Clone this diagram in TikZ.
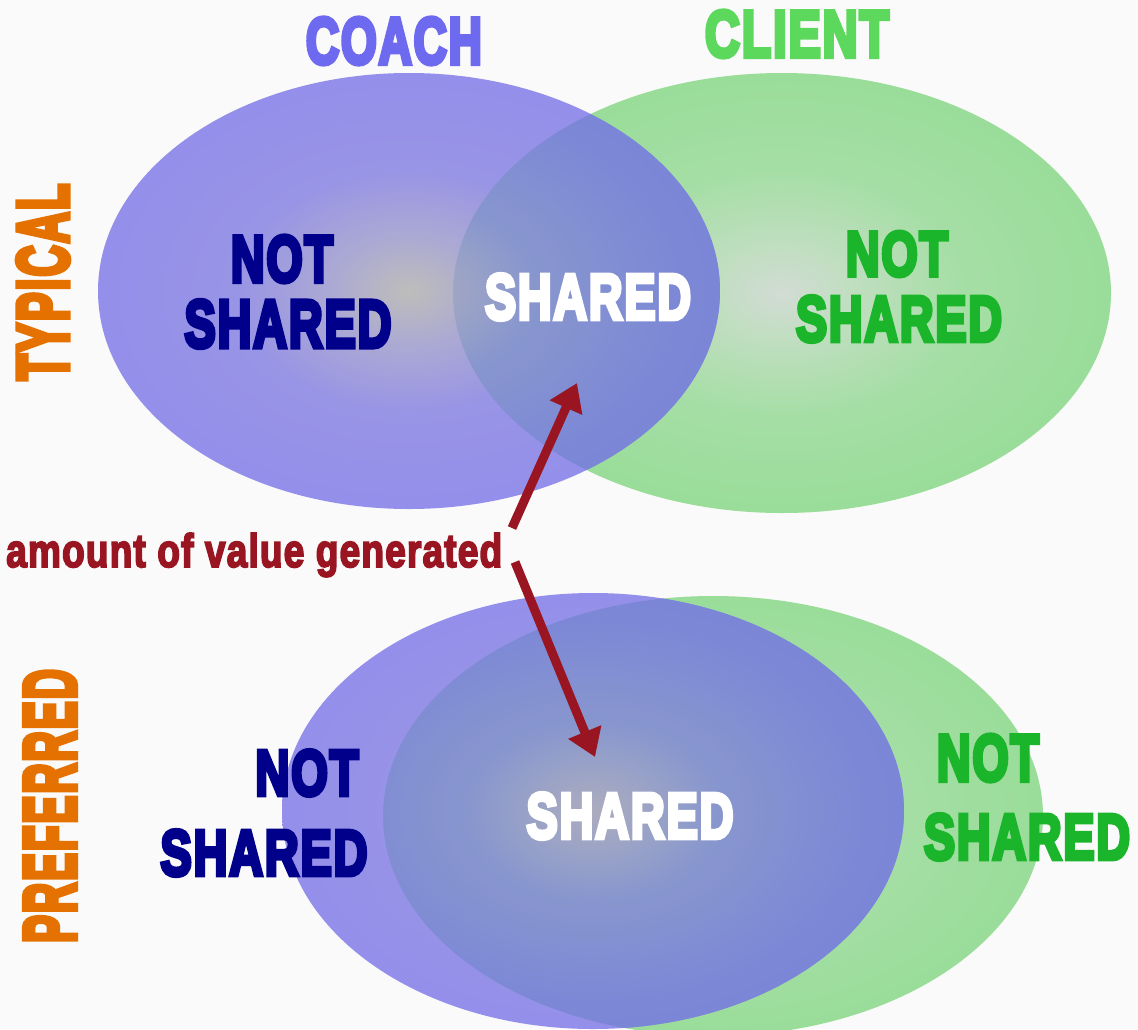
\documentclass[tikz,border=0pt]{standalone}
\usepackage{fontspec}
\usepackage{graphicx}
\usetikzlibrary{arrows.meta}
\newfontfamily\heavy{Liberation Sans}[BoldFeatures={FakeBold=7, LetterSpace=4}]
\newfontfamily\heavyl{Liberation Sans}[BoldFeatures={FakeBold=4, LetterSpace=3}]
\definecolor{bg}{HTML}{FAFAFA}
\definecolor{gc0}{RGB}{210,220,212}
\definecolor{gc1}{RGB}{190,222,190}
\definecolor{gc2}{RGB}{165,222,165}
\definecolor{gc3}{RGB}{148,220,148}
\definecolor{gc4}{RGB}{140,218,140}
\definecolor{bc0}{RGB}{190,189,186}
\definecolor{bc1}{RGB}{172,170,210}
\definecolor{bc2}{RGB}{152,148,230}
\definecolor{bc3}{RGB}{146,141,236}
\definecolor{bc4}{RGB}{140,135,236}
\definecolor{lc0}{RGB}{172,172,190}
\definecolor{lc1}{RGB}{150,160,200}
\definecolor{lc2}{RGB}{136,150,206}
\definecolor{lc3}{RGB}{124,136,214}
\definecolor{lc4}{RGB}{116,124,218}
\definecolor{coachc}{HTML}{6E6AF0}
\definecolor{clientc}{HTML}{5CD85C}
\definecolor{orangec}{HTML}{E57200}
\definecolor{navyc}{HTML}{00008A}
\definecolor{greenc}{HTML}{1BB52B}
\definecolor{redc}{HTML}{981521}
\pgfdeclareradialshading{greenball}{\pgfpoint{0bp}{0bp}}{color(0bp)=(gc0); color(6bp)=(gc1); color(14bp)=(gc2); color(30bp)=(gc3); color(50bp)=(gc4)}
\pgfdeclareradialshading{blueball}{\pgfpoint{0bp}{0bp}}{color(0bp)=(bc0); color(6bp)=(bc1); color(14bp)=(bc2); color(30bp)=(bc3); color(50bp)=(bc4)}
\pgfdeclareradialshading{lensball}{\pgfpoint{0bp}{0bp}}{color(0bp)=(lc0); color(6bp)=(lc1); color(10bp)=(lc2); color(22bp)=(lc3); color(50bp)=(lc4)}
\newcommand\fitt[3]{\resizebox{#1pt}{#2pt}{\heavy\bfseries #3}}
\newcommand\fitl[3]{\resizebox{#1pt}{#2pt}{\heavyl\bfseries #3}}
\tikzset{
  txt/.style={inner sep=0pt, outer sep=0pt, anchor=center},
  greenell/.style={shading=greenball},
  blueell/.style={shading=blueball},
  lensell/.style={shading=lensball},
  arr/.style={draw=redc, line width=9pt, -{Triangle[length=27pt,width=34pt]}}
}
\begin{document}
\begin{tikzpicture}[x=1pt, y=-1pt]
\useasboundingbox (0,0) rectangle (1138,1029);
\fill[bg] (0,0) rectangle (1138,1029);
\clip (0,0) rectangle (1138,1029);
% typical
\shade[greenell] (782,293) ellipse [x radius=329, y radius=220];
\shade[blueell] (409,291) ellipse [x radius=311, y radius=218];
\begin{scope}
  \clip (782,293) ellipse [x radius=329, y radius=220];
  \shade[lensell] (409,291) ellipse [x radius=311, y radius=218];
\end{scope}
% preferred
\shade[greenell] (713,816) ellipse [x radius=330, y radius=220];
\shade[blueell] (593,811) ellipse [x radius=311, y radius=218];
\begin{scope}
  \clip (713,816) ellipse [x radius=330, y radius=220];
  \shade[lensell] (593,811) ellipse [x radius=311, y radius=218];
\end{scope}
% titles
\node[txt, text=coachc] (coach) at (394,41) {\fitt{176}{46}{COACH}};
\node[txt, text=clientc] (client) at (797,34) {\fitt{184}{46}{CLIENT}};
\node[txt, text=orangec, rotate=90] (typical) at (43,282) {\fitt{197}{51}{TYPICAL}};
\node[txt, text=orangec, rotate=90] (preferred) at (50,806) {\fitt{274}{51}{PREFERRED}};
% typical labels
\node[txt, text=navyc] (nt1) at (282,259) {\fitt{102}{46}{NOT}};
\node[txt, text=navyc] (st1) at (288,324) {\fitt{207}{47}{SHARED}};
\node[txt, text=white] (sh1) at (588,297) {\fitt{206}{45}{SHARED}};
\node[txt, text=greenc] (nt2) at (897,254) {\fitt{102}{44}{NOT}};
\node[txt, text=greenc] (st2) at (899,319) {\fitt{206}{45}{SHARED}};
% preferred labels
\node[txt, text=navyc] (nt3) at (307,773) {\fitt{103}{45}{NOT}};
\node[txt, text=navyc] (st3) at (264,853) {\fitt{207}{45}{SHARED}};
\node[txt, text=white] (sh2) at (630,816) {\fitt{207}{45}{SHARED}};
\node[txt, text=greenc] (nt4) at (988,758) {\fitt{102}{46}{NOT}};
\node[txt, text=greenc] (st4) at (1027,837) {\fitt{206}{45}{SHARED}};
% value label and arrows
\node[inner sep=0pt, anchor=base west, text=redc] (val) at (6,567) {\fitl{496}{34}{amount of value generated}};
\coordinate (a1s) at (512,528);
\coordinate (a1e) at (577,383);
\coordinate (a2s) at (515,562);
\coordinate (a2e) at (595,757);
\draw[arr] (a1s) -- (a1e);
\draw[arr] (a2s) -- (a2e);
\end{tikzpicture}
\end{document}
